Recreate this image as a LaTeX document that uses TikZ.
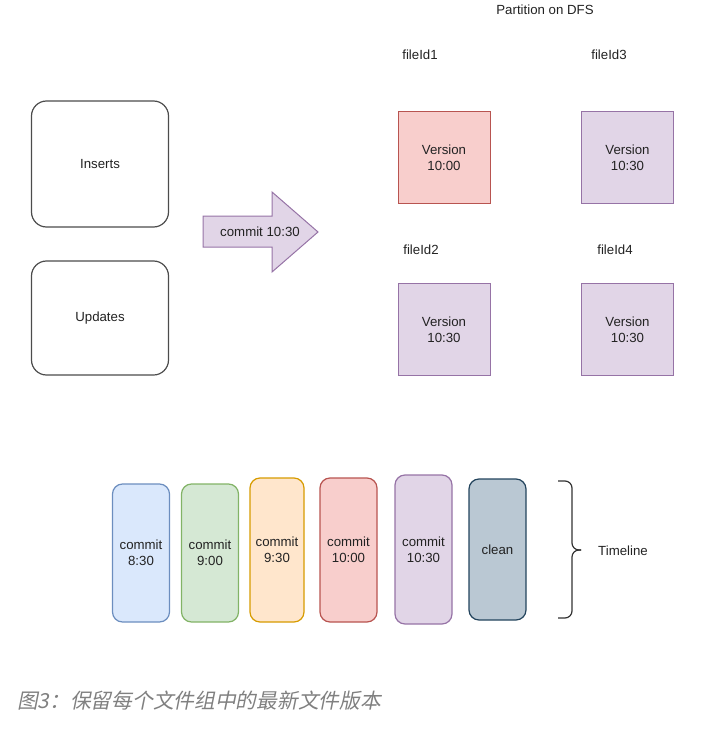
\documentclass[tikz,border=0pt]{standalone}
\usepackage{fontspec}
\setmainfont{Liberation Sans}
\newfontfamily\capfont[FakeSlant=0.2]{Noto Sans CJK SC}
\usepackage{xcolor}
\definecolor{bluefill}{HTML}{DAE8FC}
\definecolor{bluedraw}{HTML}{6C8EBF}
\definecolor{greenfill}{HTML}{D5E8D4}
\definecolor{greendraw}{HTML}{82B366}
\definecolor{orangefill}{HTML}{FFE6CC}
\definecolor{orangedraw}{HTML}{D79B00}
\definecolor{redfill}{HTML}{F8CECC}
\definecolor{reddraw}{HTML}{B85450}
\definecolor{purplefill}{HTML}{E1D5E7}
\definecolor{purpledraw}{HTML}{9673A6}
\definecolor{slatefill}{HTML}{BAC8D3}
\definecolor{slatedraw}{HTML}{23445D}
\definecolor{inkgray}{HTML}{222222}

\begin{document}
\begin{tikzpicture}[
			     x=1bp, y=-1bp,
			     font=\fontsize{13.3}{16}\selectfont,
			     every node/.append style={text=inkgray},
			     plain box/.style={draw=black!70, line width=1.2bp, rounded corners=15bp, minimum width=137bp, align=center},
			     version box/.style={draw=#1draw, fill=#1fill, line width=1bp, minimum width=92bp, minimum height=92bp, align=center},
			     commit box/.style={draw=#1draw, fill=#1fill, line width=1.2bp, rounded corners=10bp, minimum width=57bp, inner sep=0pt, align=center}
			     ]
\useasboundingbox (0,0) rectangle (709,734);
% incoming records
\node[plain box, minimum height=126bp] (ins) at (100,164) {Inserts};
\node[plain box, minimum height=114bp] (upd) at (100,318) {Updates};
\filldraw[fill=purplefill, draw=purpledraw, line width=1bp] (203,216) -- (272,216) -- (272,192) -- (318,232) -- (272,272) -- (272,247) -- (203,247) -- cycle;
\node (c1030) at (260,232) {commit 10:30};
% partition
\node (dfs) at (545,10) {Partition on DFS};
\node (f1) at (420,55) {fileId1};
\node (f3) at (609,55) {fileId3};
\node (f2) at (421,250) {fileId2};
\node (f4) at (615,250) {fileId4};
\node[version box=red] (v1) at (444,157.5) {Version\\10:00};
\node[version box=purple] (v3) at (627.5,157.5) {Version\\10:30};
\node[version box=purple] (v2) at (444,329.5) {Version\\10:30};
\node[version box=purple] (v4) at (627.5,329.5) {Version\\10:30};
% timeline
\node[commit box=blue, minimum height=138bp] (t1) at (141,553) {commit\\8:30};
\node[commit box=green, minimum height=138bp] (t2) at (210,553) {commit\\9:00};
\node[commit box=orange, minimum height=144bp, minimum width=54bp] (t3) at (277,550) {commit\\9:30};
\node[commit box=red, minimum height=144bp] (t4) at (348.5,550) {commit\\10:00};
\node[commit box=purple, minimum height=149bp] (t5) at (423.5,549.5) {commit\\10:30};
\node[commit box=slate, minimum height=141bp] (t6) at (497.5,549.5) {clean};
\coordinate (bt) at (558,481);
\coordinate (bb) at (558,618);
\coordinate (bm) at (581,550);
\draw[draw=black!80, line width=1.2bp, rounded corners=7bp] (bt) -| (572,550) -- (bm);
\draw[draw=black!80, line width=1.2bp, rounded corners=7bp] (bb) -| (572,550) -- (bm);
\node (tl) at (623,551) {Timeline};
\node[anchor=west, inner sep=0pt, text=black!50] (cap) at (17,701) {\capfont\fontsize{20.8}{24}\selectfont 图3：保留每个文件组中的最新文件版本};
\end{tikzpicture}
\end{document}
